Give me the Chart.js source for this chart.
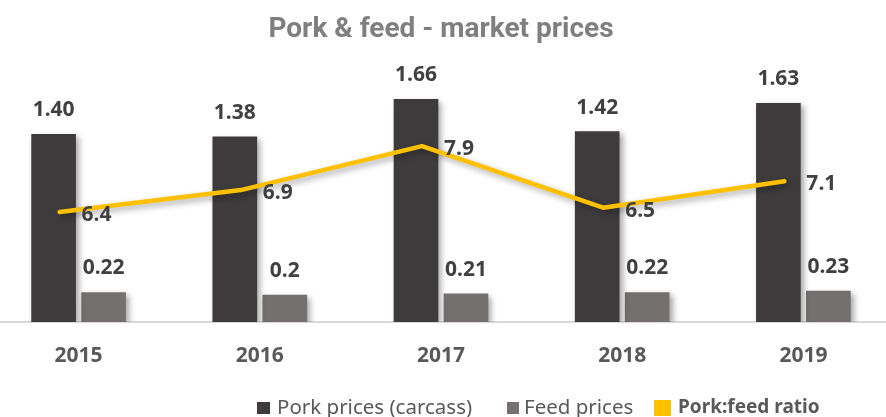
<!DOCTYPE html>
<html>
<head>
<meta charset="utf-8">
<script src="https://cdn.jsdelivr.net/npm/chart.js@4.4.1/dist/chart.umd.min.js"></script>
<style>
  html, body { margin: 0; padding: 0; background: #fff; overflow: hidden; width: 886px; height: 417px; }
  #wrap { position: absolute; left: -12px; top: 0; width: 906px; height: 398px; }
  .box { position: absolute; }
  .txt { position: absolute; top: 394px; font-family: "Noto Sans"; font-size: 20.5px; line-height: 24px; color: #595959; white-space: nowrap; }
</style>
</head>
<body>
<div id="wrap"><canvas id="pigChart"></canvas></div>

<!-- legend -->
<div class="box" style="left:257px; top:402px; width:13px; height:12px; background:#3e3b3c;"></div>
<div class="txt" style="left:277px;">Pork prices (carcass)</div>
<div class="box" style="left:507px; top:402px; width:12px; height:12px; background:#757070;"></div>
<div class="txt" style="left:524px;">Feed prices</div>
<div class="box" style="left:654px; top:400px; width:17px; height:16px; background:#ffc000;"></div>
<div class="txt" style="left:678px; font-weight:bold; font-size:19px;">Pork:feed ratio</div>

<script>
  // chart data
  const years = ['2015', '2016', '2017', '2018', '2019'];
  const porkPrices = [1.40, 1.38, 1.66, 1.42, 1.63];
  const feedPrices = [0.22, 0.2, 0.21, 0.22, 0.23];
  const porkFeedRatio = [6.4, 6.9, 7.9, 6.5, 7.1];

  // soft shadow under bars and line, like the office chart
  const shadowPlugin = {
      id: 'shadow',
      beforeDatasetDraw(chart) {
          const ctx = chart.ctx;
          ctx.save();
          ctx.shadowColor = 'rgba(0, 0, 0, 0.35)';
          ctx.shadowBlur = 6;
          ctx.shadowOffsetX = 3;
          ctx.shadowOffsetY = 3;
      },
      afterDatasetDraw(chart) {
          chart.ctx.restore();
      }
  };

  // value labels over the bars, right of the line points
  const valueLabels = {
      id: 'valueLabels',
      afterDatasetsDraw(chart) {
          const ctx = chart.ctx;
          ctx.save();
          ctx.font = 'bold 21px "Noto Sans"';
          ctx.fillStyle = '#404040';
          ctx.textBaseline = 'middle';
          chart.data.datasets.forEach((ds, di) => {
              const meta = chart.getDatasetMeta(di);
              meta.data.forEach((el, i) => {
                  const text = ds.fmt(ds.raw[i]);
                  if (ds.type === 'line') {
                      ctx.textAlign = 'left';
                      ctx.fillText(text, el.x + 22, el.y + 3);
                  } else {
                      ctx.textAlign = 'center';
                      ctx.fillText(text, el.x, el.y - 24);
                  }
              });
          });
          ctx.restore();
      }
  };

  const ctx = document.getElementById('pigChart').getContext('2d');
  const pigChart = new Chart(ctx, {
      type: 'bar',
      data: {
          labels: years,
          datasets: [{
              type: 'line',
              label: 'Pork:feed ratio',
              data: porkFeedRatio.map((v, i) => ({ x: i, y: v })),
              raw: porkFeedRatio,
              fmt: v => v.toFixed(1),
              xAxisID: 'x2',
              yAxisID: 'y2',
              borderColor: '#ffc000',
              borderWidth: 4.5,
              borderCapStyle: 'round',
              borderJoinStyle: 'round',
              pointRadius: 0,
              tension: 0,
              order: 0
          }, {
              label: 'Pork prices (carcass)',
              data: porkPrices,
              raw: porkPrices,
              fmt: v => v.toFixed(2),
              backgroundColor: '#3e3b3c',
              barThickness: 50,
              maxBarThickness: 44,
              order: 1
          }, {
              label: 'Feed prices',
              data: feedPrices,
              raw: feedPrices,
              fmt: v => String(v),
              backgroundColor: '#757070',
              barThickness: 50,
              maxBarThickness: 44,
              order: 1
          }]
      },
      options: {
          responsive: true,
          maintainAspectRatio: false,
          animation: false,
          layout: { padding: { left: 0, right: 0, top: 0, bottom: 8.8 } },
          plugins: {
              legend: { display: false },
              tooltip: { enabled: false },
              title: {
                  display: true,
                  text: 'Pork & feed - market prices',
                  color: '#7f7f7f',
                  font: { family: 'Roboto', size: 28, weight: 'bold' },
                  padding: { top: 13, bottom: 7.2 }
              }
          },
          scales: {
              x: {
                  offset: true,
                  grid: { display: false, drawTicks: false },
                  border: { display: true, color: '#d9d9d9', width: 2 },
                  ticks: {
                      color: '#595959',
                      padding: 21,
                      font: { family: 'Noto Sans', size: 21, weight: 'bold' }
                  }
              },
              x2: { type: 'linear', display: false, offset: false, grid: { offset: false }, min: -0.395, max: 4.605 },
              y: { display: false, min: 0, max: 2 },
              y2: { display: false, min: 3.9, max: 10 }
          }
      },
      plugins: [shadowPlugin, valueLabels]
  });
</script>
</body>
</html>
